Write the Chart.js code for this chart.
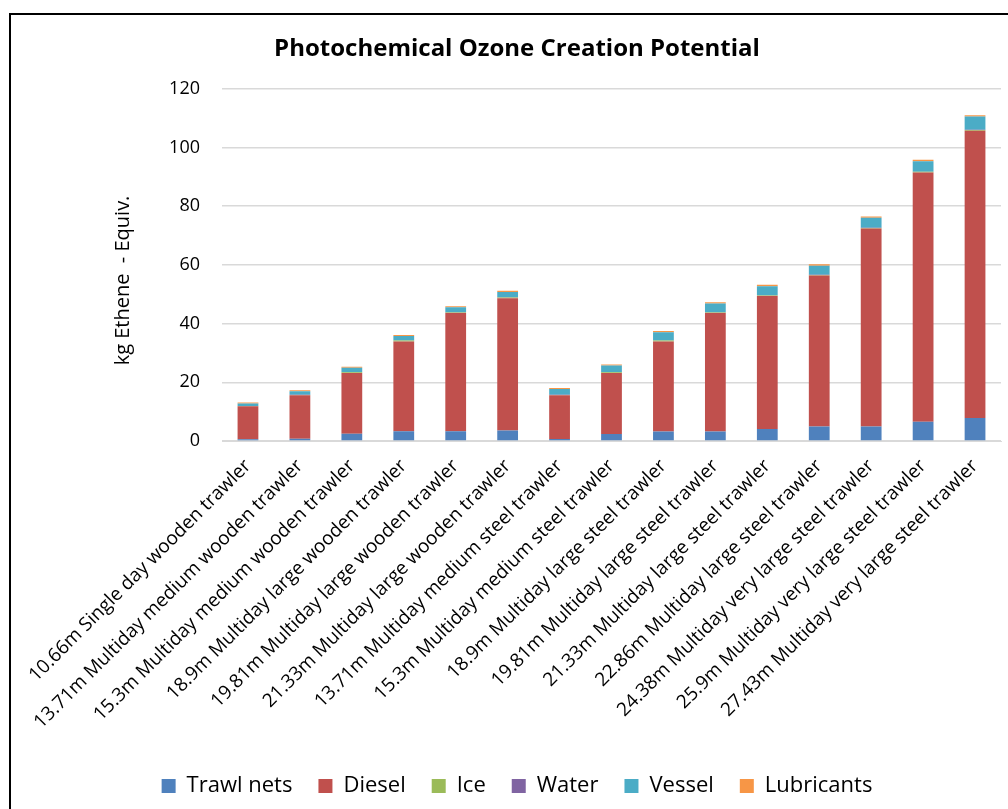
<!DOCTYPE html>
<html>
<head>
<meta charset="utf-8">
<script src="https://cdn.jsdelivr.net/npm/chart.js@4/dist/chart.umd.min.js"></script>
<style>
  html, body { margin: 0; padding: 0; background: #fff; overflow: hidden; width: 1008px; height: 809px; }
  #frame { position: absolute; left: 9px; top: 13px; width: 1040px; height: 850px; border: 2px solid #000; box-sizing: border-box; background:#fff; }
  #c { position: absolute; left: 11px; top: 15px; }
</style>
</head>
<body>
<div id="frame"></div>
<canvas id="c" width="1012" height="800"></canvas>
<script>
const categories = [
  "10.66m Single day wooden trawler",
  "13.71m Multiday medium wooden trawler",
  "15.3m Multiday medium wooden trawler",
  "18.9m Multiday large wooden trawler",
  "19.81m Multiday large wooden trawler",
  "21.33m Multiday large wooden trawler",
  "13.71m Multiday medium steel trawler",
  "15.3m Multiday medium steel trawler",
  "18.9m Multiday large steel trawler",
  "19.81m Multiday large steel trawler",
  "21.33m Multiday large steel trawler",
  "22.86m Multiday large steel trawler",
  "24.38m Multiday very large steel trawler",
  "25.9m Multiday very large steel trawler",
  "27.43m Multiday very large steel trawler"
];
const trawlNets  = [0.6, 0.8, 2.5, 3.3, 3.3, 3.6, 0.7, 2.4, 3.2, 3.2, 4.1, 4.9, 4.9, 6.6, 7.8];
const diesel     = [11.2, 14.8, 20.7, 30.6, 40.3, 45.0, 14.9, 20.8, 30.7, 40.4, 45.3, 51.5, 67.5, 84.9, 97.9];
const ice        = [0.1, 0.1, 0.2, 0.3, 0.2, 0.3, 0.1, 0.2, 0.3, 0.2, 0.2, 0.2, 0.2, 0.2, 0.3];
const water      = [0.05, 0.05, 0.05, 0.05, 0.05, 0.05, 0.05, 0.05, 0.05, 0.05, 0.05, 0.05, 0.05, 0.05, 0.05];
const vessel     = [0.8, 1.2, 1.5, 1.5, 1.7, 1.8, 2.0, 2.3, 2.8, 3.0, 3.1, 3.1, 3.4, 3.6, 4.5];
const lubricants = [0.35, 0.35, 0.35, 0.35, 0.35, 0.4, 0.35, 0.35, 0.4, 0.45, 0.45, 0.45, 0.45, 0.45, 0.45];
const yTicks = [0, 20, 40, 60, 80, 100, 120];

const seriesNames = ["Trawl nets", "Diesel", "Ice", "Water", "Vessel", "Lubricants"];
const seriesData = [trawlNets, diesel, ice, water, vessel, lubricants];
const seriesColors = ["#4F81BD", "#C0504D", "#9BBB59", "#8064A2", "#4BACC6", "#F79646"];

const tickFont = "'Open Sans', 'Noto Sans', sans-serif";
const narrowFont = "'Liberation Sans Narrow', 'Open Sans', sans-serif";

new Chart(document.getElementById('c'), {
  type: 'bar',
  data: {
    labels: categories,
    datasets: seriesNames.map((n, i) => ({
      label: n,
      data: seriesData[i],
      backgroundColor: seriesColors[i],
      borderWidth: 0,
      barPercentage: 0.8,
      categoryPercentage: 0.5
    }))
  },
  options: {
    responsive: false,
    animation: false,
    layout: { padding: { left: 22, right: 22, top: 0, bottom: 8 } },
    plugins: {
      title: {
        display: true,
        text: 'Photochemical Ozone Creation Potential',
        color: '#000',
        font: { family: tickFont, size: 24, weight: 'bold' },
        padding: { top: 20, bottom: 25 }
      },
      legend: {
        position: 'bottom',
        labels: {
          color: '#000',
          font: { family: narrowFont, size: 22 },
          boxWidth: 14,
          boxHeight: 14,
          padding: 26
        }
      },
      tooltip: { enabled: false }
    },
    scales: {
      x: {
        stacked: true,
        grid: { display: false, drawTicks: false },
        border: { display: true, color: '#D9D9D9', width: 1 },
        afterFit: (s) => { s.height = 308; },
        ticks: {
          color: '#000',
          font: { family: tickFont, size: 19 },
          maxRotation: 45,
          minRotation: 45,
          autoSkip: false,
          padding: 14
        }
      },
      y: {
        stacked: true,
        min: 0,
        max: 120,
        afterBuildTicks: (s) => { s.ticks = yTicks.map(v => ({ value: v })); },
        afterFit: (s) => { s.width = 189; },
        grid: { color: '#D9D9D9', lineWidth: 1.5, drawTicks: false },
        border: { display: false },
        ticks: {
          color: '#000',
          font: { family: tickFont, size: 18 },
          padding: 22
        },
        title: {
          display: true,
          text: 'kg Ethene  - Equiv.\u00A0\u00A0\u00A0\u00A0\u00A0\u00A0',
          color: '#000',
          font: { family: tickFont, size: 20 },
          padding: { top: 78, bottom: 0 }
        }
      }
    }
  }
});
</script>
</body>
</html>
